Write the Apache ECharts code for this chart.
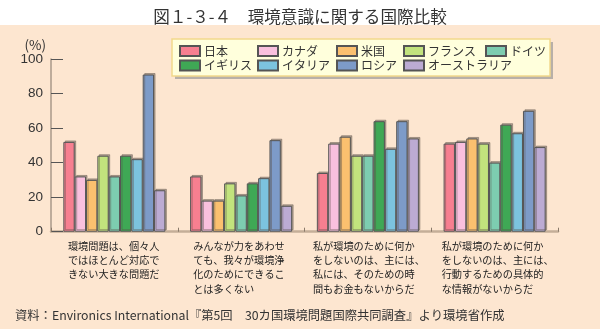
<!DOCTYPE html>
<html>
<head>
<meta charset="utf-8">
<script src="https://cdn.jsdelivr.net/npm/echarts@6/dist/echarts.min.js"></script>
<style>
  html, body { margin: 0; padding: 0; background: #fde6d0; }
  #chart { width: 600px; height: 329px; }
</style>
</head>
<body>
<div id="chart"></div>
<script>
// Survey statements (x-axis categories)
var categories = [
  '環境問題は、個々人\nではほとんど対応で\nきない大きな問題だ',
  'みんなが力をあわせ\nても、我々が環境浄\n化のためにできるこ\nとは多くない',
  '私が環境のために何か\nをしないのは、主には、\n私には、そのための時\n間もお金もないからだ',
  '私が環境のために何か\nをしないのは、主には、\n行動するための具体的\nな情報がないからだ'
];

// Countries (series)
var countries = ['日本', 'カナダ', '米国', 'フランス', 'ドイツ', 'イギリス', 'イタリア', 'ロシア', 'オーストラリア'];

// Share of respondents agreeing (%), one array per country, in category order
var japan     = [52, 32, 34, 51];
var canada    = [32, 18, 51, 52];
var usa       = [30, 18, 55, 54];
var france    = [44, 28, 44, 51];
var germany   = [32, 21, 44, 40];
var uk        = [44, 28, 64, 62];
var italy     = [42, 31, 48, 57];
var russia    = [91, 53, 64, 70];
var australia = [24, 15, 54, 49];

var seriesValues = [japan, canada, usa, france, germany, uk, italy, russia, australia];

var colors = ['#f77f90', '#f9c0de', '#fbc06f', '#c2e37d', '#7dcdb0', '#3fa855', '#7cc3de', '#7d9bc8', '#bcabd3'];

// Y-axis ticks
var yTicks = [0, 20, 40, 60, 80, 100];

var FONT = '"Noto Sans CJK JP", "Noto Sans", sans-serif';

var chart = echarts.init(document.getElementById('chart'), null, { renderer: 'canvas' });

var series = countries.map(function (name, i) {
  return {
    name: name,
    type: 'bar',
    data: seriesValues[i],
    barGap: '0%',
    barCategoryGap: '19.5%',
    itemStyle: {
      color: colors[i],
      borderColor: '#555',
      borderWidth: 1,
      shadowColor: 'rgba(90,80,70,0.45)',
      shadowOffsetX: 1.5,
      shadowOffsetY: -1.5,
      shadowBlur: 0
    },
    emphasis: { disabled: true }
  };
});

// Legend laid out in five columns of up to two entries
var legendCols = [[0, 5], [1, 6], [2, 7], [3, 8], [4]];
var legendLeft = [179, 257, 336, 403, 485];
var legends = legendCols.map(function (col, c) {
  return {
    orient: 'vertical',
    left: legendLeft[c],
    top: 44,
    padding: 0,
    itemGap: 0.5,
    itemWidth: 20,
    itemHeight: 10,
    icon: 'rect',
    selectedMode: false,
    data: col.map(function (k) { return countries[k]; }),
    textStyle: { fontFamily: FONT, fontSize: 12, color: '#333', lineHeight: 14, padding: [0, 0, 0, -1] }
  };
});

// Per-category label boxes (text left-aligned inside a centred box)
var labelWidths = [93, 96, 110, 106];
var rich = {};
labelWidths.forEach(function (w, i) {
  rich['c' + i] = { width: w, align: 'left', fontFamily: FONT, fontSize: 10.2, lineHeight: 14.3, color: '#222' };
});

var option = {
  backgroundColor: '#fde6d0',
  animation: false,
  color: colors,
  title: {
    text: '図１-３-４　環境意識に関する国際比較',
    left: 'center',
    top: 3,
    textStyle: { fontFamily: FONT, fontSize: 16.6, fontWeight: 'normal', color: '#333' }
  },
  legend: legends,
  grid: { left: 51, right: 42, top: 59, bottom: 97.3, containLabel: false },
  xAxis: {
    type: 'category',
    data: categories,
    axisLine: { lineStyle: { color: '#c4ae98', width: 2.5 } },
    axisTick: { show: true, inside: true, length: 4, alignWithLabel: false, lineStyle: { color: '#8a7a6a' } },
    axisLabel: {
      interval: 0,
      margin: 7,
      align: 'center',
      formatter: function (value, index) { return '{c' + index + '|' + value + '}'; },
      rich: rich
    }
  },
  yAxis: {
    type: 'value',
    min: yTicks[0],
    max: yTicks[yTicks.length - 1],
    interval: 20,
    name: '(%)',
    nameLocation: 'end',
    nameGap: 6,
    nameTextStyle: { fontFamily: FONT, fontSize: 13.5, color: '#333', align: 'right', padding: [0, 5, 0, 0] },
    axisLine: { show: true, lineStyle: { color: '#a8998a', width: 1.5 } },
    axisTick: { show: true, inside: true, length: 12, lineStyle: { color: '#555' } },
    splitLine: { show: false },
    axisLabel: { margin: 8, fontFamily: '"Liberation Sans", Arial, sans-serif', fontSize: 13.5, color: '#333' }
  },
  graphic: [
    // white band behind the title
    { type: 'rect', z: -10, shape: { x: 0, y: 0, width: 600, height: 25 }, style: { fill: '#ffffff' } },
    // legend frame with drop shadow
    { type: 'rect', z: -1, shape: { x: 175, y: 42, width: 378, height: 37 }, style: { fill: '#b8b0a8' } },
    { type: 'rect', z: 0, shape: { x: 172, y: 39, width: 378, height: 37 }, style: { fill: '#ffffdc', stroke: '#f2d98c', lineWidth: 1.5 } },
    // source note
    {
      type: 'text', left: 15, top: 309,
      style: {
        text: '資料：Environics International『第5回　30カ国環境問題国際共同調査』より環境省作成',
        font: '12.3px ' + FONT, fill: '#333'
      }
    }
  ],
  series: series
};

chart.setOption(option);
</script>
</body>
</html>
